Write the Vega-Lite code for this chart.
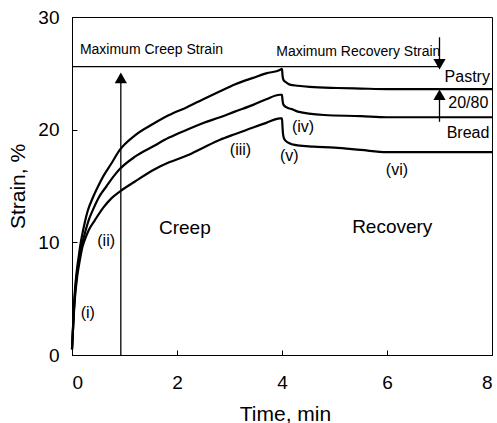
{
  "$schema": "https://vega.github.io/schema/vega-lite/v6.json",
  "width": 420,
  "height": 338,
  "autosize": {"type": "none"},
  "padding": {"left": 72, "top": 17, "right": 5, "bottom": 68},
  "background": "white",
  "config": {
    "view": {"stroke": "black", "strokeWidth": 1},
    "font": "Liberation Sans",
    "axis": {
      "grid": false,
      "domainColor": "black",
      "tickColor": "black",
      "tickSize": -5,
      "labelColor": "black",
      "titleColor": "black",
      "labelFont": "Liberation Sans",
      "titleFont": "Liberation Sans",
      "labelFontSize": 19,
      "titleFontSize": 21,
      "titleFontWeight": "normal"
    }
  },
  "datasets": {
    "curves": [
      {"series": "Pastry", "t": 0.0, "s": 0.5}, {"series": "Pastry", "t": 0.02, "s": 2.5}, {"series": "Pastry", "t": 0.04, "s": 4.5}, {"series": "Pastry", "t": 0.06, "s": 6.0}, {"series": "Pastry", "t": 0.08, "s": 7.0}, {"series": "Pastry", "t": 0.10, "s": 7.8}, {"series": "Pastry", "t": 0.13, "s": 8.8}, {"series": "Pastry", "t": 0.16, "s": 9.8}, {"series": "Pastry", "t": 0.20, "s": 10.8}, {"series": "Pastry", "t": 0.25, "s": 11.9}, {"series": "Pastry", "t": 0.30, "s": 12.8}, {"series": "Pastry", "t": 0.40, "s": 14.0}, {"series": "Pastry", "t": 0.50, "s": 15.0}, {"series": "Pastry", "t": 0.60, "s": 15.9}, {"series": "Pastry", "t": 0.75, "s": 17.0}, {"series": "Pastry", "t": 0.91, "s": 18.2}, {"series": "Pastry", "t": 1.2, "s": 19.5}, {"series": "Pastry", "t": 1.54, "s": 20.5}, {"series": "Pastry", "t": 1.85, "s": 21.3}, {"series": "Pastry", "t": 2.19, "s": 22.0}, {"series": "Pastry", "t": 2.5, "s": 22.7}, {"series": "Pastry", "t": 2.82, "s": 23.4}, {"series": "Pastry", "t": 3.1, "s": 24.0}, {"series": "Pastry", "t": 3.45, "s": 24.6}, {"series": "Pastry", "t": 3.7, "s": 25.0}, {"series": "Pastry", "t": 3.96, "s": 25.3}, {"series": "Pastry", "t": 4.0, "s": 25.4}, {"series": "Pastry", "t": 4.01, "s": 24.8}, {"series": "Pastry", "t": 4.03, "s": 24.4}, {"series": "Pastry", "t": 4.08, "s": 24.2}, {"series": "Pastry", "t": 4.15, "s": 24.0}, {"series": "Pastry", "t": 4.3, "s": 23.9}, {"series": "Pastry", "t": 4.53, "s": 23.8}, {"series": "Pastry", "t": 5.05, "s": 23.7}, {"series": "Pastry", "t": 5.5, "s": 23.65}, {"series": "Pastry", "t": 6.0, "s": 23.6}, {"series": "Pastry", "t": 7.0, "s": 23.6}, {"series": "Pastry", "t": 8.0, "s": 23.6},
      {"series": "20/80", "t": 0.0, "s": 0.5}, {"series": "20/80", "t": 0.02, "s": 2.5}, {"series": "20/80", "t": 0.04, "s": 4.3}, {"series": "20/80", "t": 0.06, "s": 5.6}, {"series": "20/80", "t": 0.08, "s": 6.6}, {"series": "20/80", "t": 0.10, "s": 7.4}, {"series": "20/80", "t": 0.13, "s": 8.3}, {"series": "20/80", "t": 0.16, "s": 9.2}, {"series": "20/80", "t": 0.20, "s": 10.0}, {"series": "20/80", "t": 0.25, "s": 10.9}, {"series": "20/80", "t": 0.32, "s": 12.0}, {"series": "20/80", "t": 0.40, "s": 12.9}, {"series": "20/80", "t": 0.50, "s": 13.9}, {"series": "20/80", "t": 0.66, "s": 15.0}, {"series": "20/80", "t": 0.80, "s": 15.9}, {"series": "20/80", "t": 0.91, "s": 16.5}, {"series": "20/80", "t": 1.2, "s": 17.6}, {"series": "20/80", "t": 1.54, "s": 18.5}, {"series": "20/80", "t": 1.85, "s": 19.3}, {"series": "20/80", "t": 2.19, "s": 20.0}, {"series": "20/80", "t": 2.5, "s": 20.6}, {"series": "20/80", "t": 2.82, "s": 21.1}, {"series": "20/80", "t": 3.1, "s": 21.6}, {"series": "20/80", "t": 3.45, "s": 22.2}, {"series": "20/80", "t": 3.7, "s": 22.7}, {"series": "20/80", "t": 3.96, "s": 23.1}, {"series": "20/80", "t": 4.0, "s": 23.1}, {"series": "20/80", "t": 4.01, "s": 22.6}, {"series": "20/80", "t": 4.03, "s": 22.2}, {"series": "20/80", "t": 4.08, "s": 22.0}, {"series": "20/80", "t": 4.2, "s": 21.8}, {"series": "20/80", "t": 4.3, "s": 21.6}, {"series": "20/80", "t": 4.8, "s": 21.3}, {"series": "20/80", "t": 5.5, "s": 21.2}, {"series": "20/80", "t": 6.0, "s": 21.1}, {"series": "20/80", "t": 8.0, "s": 21.1},
      {"series": "Bread", "t": 0.0, "s": 0.5}, {"series": "Bread", "t": 0.02, "s": 2.3}, {"series": "Bread", "t": 0.04, "s": 4.0}, {"series": "Bread", "t": 0.06, "s": 5.3}, {"series": "Bread", "t": 0.08, "s": 6.2}, {"series": "Bread", "t": 0.10, "s": 7.0}, {"series": "Bread", "t": 0.13, "s": 7.9}, {"series": "Bread", "t": 0.16, "s": 8.7}, {"series": "Bread", "t": 0.20, "s": 9.6}, {"series": "Bread", "t": 0.25, "s": 10.3}, {"series": "Bread", "t": 0.32, "s": 11.1}, {"series": "Bread", "t": 0.44, "s": 12.0}, {"series": "Bread", "t": 0.60, "s": 13.1}, {"series": "Bread", "t": 0.75, "s": 13.9}, {"series": "Bread", "t": 0.91, "s": 14.5}, {"series": "Bread", "t": 1.2, "s": 15.4}, {"series": "Bread", "t": 1.54, "s": 16.4}, {"series": "Bread", "t": 1.85, "s": 17.1}, {"series": "Bread", "t": 2.19, "s": 17.7}, {"series": "Bread", "t": 2.5, "s": 18.4}, {"series": "Bread", "t": 2.82, "s": 19.1}, {"series": "Bread", "t": 3.1, "s": 19.6}, {"series": "Bread", "t": 3.45, "s": 20.2}, {"series": "Bread", "t": 3.7, "s": 20.6}, {"series": "Bread", "t": 3.96, "s": 21.0}, {"series": "Bread", "t": 4.0, "s": 21.0}, {"series": "Bread", "t": 4.01, "s": 20.2}, {"series": "Bread", "t": 4.02, "s": 19.6}, {"series": "Bread", "t": 4.04, "s": 19.2}, {"series": "Bread", "t": 4.1, "s": 18.9}, {"series": "Bread", "t": 4.3, "s": 18.6}, {"series": "Bread", "t": 4.6, "s": 18.5}, {"series": "Bread", "t": 5.0, "s": 18.4}, {"series": "Bread", "t": 5.5, "s": 18.2}, {"series": "Bread", "t": 6.0, "s": 18.0}, {"series": "Bread", "t": 8.0, "s": 18.0}
    ],
    "hrule": [{"t": 0, "t2": 7.0, "s": 25.6}],
    "vrules": [
      {"t": 0.93, "s": 0, "s2": 24.8},
      {"t": 7.0, "s": 25.8, "s2": 28.2},
      {"t": 7.0, "s": 20.7, "s2": 23.3}
    ],
    "upheads": [{"t": 0.93, "s": 24.6}, {"t": 7.0, "s": 23.1}],
    "downheads": [{"t": 7.0, "s": 25.8}],
    "notes": [
      {"label": "Maximum Creep Strain", "t": 0.15, "s": 27.1},
      {"label": "Maximum Recovery Strain", "t": 3.89, "s": 26.9}
    ],
    "names": [
      {"label": "Pastry", "t": 7.96, "s": 24.7},
      {"label": "20/80", "t": 7.93, "s": 22.4},
      {"label": "Bread", "t": 7.95, "s": 19.7}
    ],
    "numerals": [
      {"label": "(i)", "t": 0.30, "s": 3.7},
      {"label": "(ii)", "t": 0.65, "s": 10.1},
      {"label": "(iii)", "t": 3.21, "s": 18.2},
      {"label": "(iv)", "t": 4.4, "s": 20.2},
      {"label": "(v)", "t": 4.14, "s": 17.7},
      {"label": "(vi)", "t": 6.19, "s": 16.4}
    ],
    "phases": [
      {"label": "Creep", "t": 2.15, "s": 11.3},
      {"label": "Recovery", "t": 6.1, "s": 11.4}
    ]
  },
  "layer": [
    {
      "data": {"name": "curves"},
      "mark": {"type": "line", "color": "black", "strokeWidth": 2.2, "interpolate": "monotone"},
      "encoding": {
        "x": {"field": "t", "type": "quantitative", "scale": {"domain": [0, 8], "nice": false},
              "axis": {"values": [0, 2, 4, 6, 8], "title": "Time, min", "labelPadding": 23, "titleX": 213, "titleY": 65, "titleBaseline": "alphabetic"}},
        "y": {"field": "s", "type": "quantitative", "scale": {"domain": [0, 30], "nice": false},
              "axis": {"values": [0, 10, 20, 30], "title": "Strain, %", "labelPadding": 18, "titleX": -48, "titleY": 169, "titleBaseline": "alphabetic", "titleAlign": "center", "titleAngle": -90}},
        "detail": {"field": "series", "type": "nominal"}
      }
    },
    {
      "data": {"name": "hrule"},
      "mark": {"type": "rule", "color": "black", "strokeWidth": 1.3},
      "encoding": {
        "x": {"field": "t", "type": "quantitative"},
        "x2": {"field": "t2"},
        "y": {"field": "s", "type": "quantitative"}
      }
    },
    {
      "data": {"name": "vrules"},
      "mark": {"type": "rule", "color": "black", "strokeWidth": 1.3},
      "encoding": {
        "x": {"field": "t", "type": "quantitative"},
        "y": {"field": "s", "type": "quantitative"},
        "y2": {"field": "s2"}
      }
    },
    {
      "data": {"name": "upheads"},
      "mark": {"type": "point", "shape": "triangle-up", "filled": true, "color": "black", "size": 150, "opacity": 1},
      "encoding": {
        "x": {"field": "t", "type": "quantitative"},
        "y": {"field": "s", "type": "quantitative"}
      }
    },
    {
      "data": {"name": "downheads"},
      "mark": {"type": "point", "shape": "triangle-down", "filled": true, "color": "black", "size": 150, "opacity": 1},
      "encoding": {
        "x": {"field": "t", "type": "quantitative"},
        "y": {"field": "s", "type": "quantitative"}
      }
    },
    {
      "data": {"name": "notes"},
      "mark": {"type": "text", "align": "left", "baseline": "middle", "fontSize": 14, "font": "Liberation Sans", "color": "black"},
      "encoding": {
        "x": {"field": "t", "type": "quantitative"},
        "y": {"field": "s", "type": "quantitative"},
        "text": {"field": "label"}
      }
    },
    {
      "data": {"name": "names"},
      "mark": {"type": "text", "align": "right", "baseline": "middle", "fontSize": 16, "font": "Liberation Sans", "color": "black"},
      "encoding": {
        "x": {"field": "t", "type": "quantitative"},
        "y": {"field": "s", "type": "quantitative"},
        "text": {"field": "label"}
      }
    },
    {
      "data": {"name": "numerals"},
      "mark": {"type": "text", "align": "center", "baseline": "middle", "fontSize": 16, "font": "Liberation Sans", "color": "black"},
      "encoding": {
        "x": {"field": "t", "type": "quantitative"},
        "y": {"field": "s", "type": "quantitative"},
        "text": {"field": "label"}
      }
    },
    {
      "data": {"name": "phases"},
      "mark": {"type": "text", "align": "center", "baseline": "middle", "fontSize": 19, "font": "Liberation Sans", "color": "black"},
      "encoding": {
        "x": {"field": "t", "type": "quantitative"},
        "y": {"field": "s", "type": "quantitative"},
        "text": {"field": "label"}
      }
    }
  ]
}
